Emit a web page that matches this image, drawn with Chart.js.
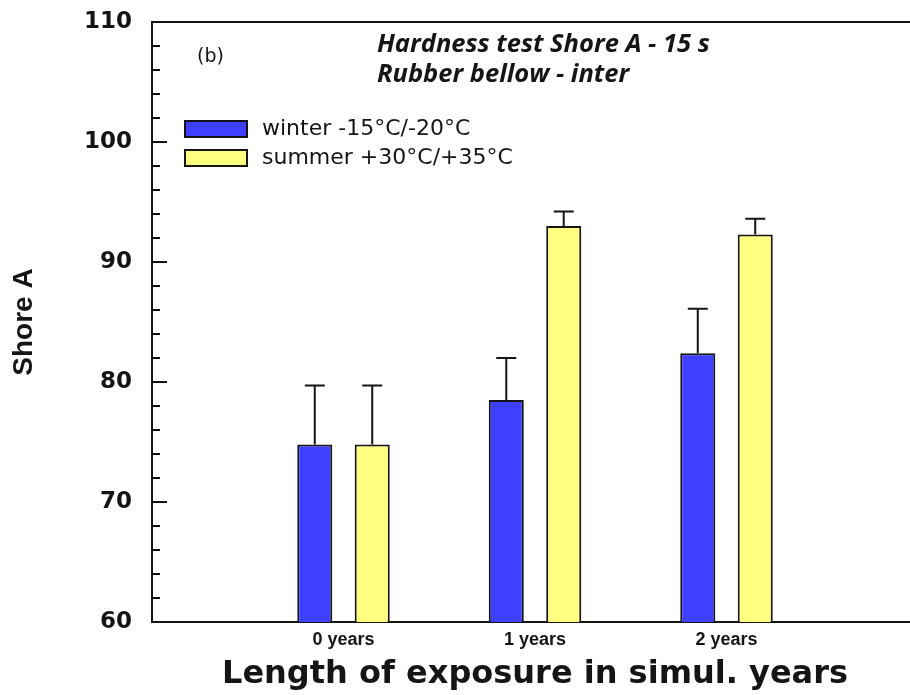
<!DOCTYPE html>
<html>
<head>
<meta charset="utf-8">
<script src="https://cdn.jsdelivr.net/npm/chart.js@4.4.1/dist/chart.umd.min.js"></script>
<style>
    html, body { margin: 0; padding: 0; background: #fff; overflow: hidden; }
    #wrap { width: 925px; height: 695px; position: relative; }
</style>
</head>
<body>
<div id="wrap"><canvas id="chart"></canvas></div>
<script>
// Dados
const categories = ['0 years', '1 years', '2 years'];
const winter = [74.8, 78.5, 82.4];
const summer = [74.8, 93.0, 92.3];
const winterErr = [4.9, 3.5, 3.7];
const summerErr = [4.9, 1.2, 1.3];
const seriesNames = ['winter -15°C/-20°C', 'summer +30°C/+35°C'];
const titleLines = ['Hardness test Shore A - 15 s', 'Rubber bellow - inter'];
const panelTag = '(b)';

const BLUE = '#3f3fff';
const YELLOW = '#ffff80';
const INK = '#151515';

// uma categoria vazia em cada ponta para deixar espaço como no original
const labels = [''].concat(categories, ['']);
const pad = arr => [null].concat(arr, [null]);

// barras de erro (só para cima)
const errorBars = {
    id: 'errorBars',
    afterDatasetsDraw(chart) {
        const ctx = chart.ctx;
        const y = chart.scales.y;
        ctx.save();
        ctx.strokeStyle = INK;
        ctx.lineWidth = 2;
        chart.data.datasets.forEach((ds, i) => {
            const meta = chart.getDatasetMeta(i);
            meta.data.forEach((bar, j) => {
                const v = ds.data[j];
                if (v === null) return;
                const top = y.getPixelForValue(v + ds.errors[j]);
                ctx.beginPath();
                ctx.moveTo(bar.x, bar.y);
                ctx.lineTo(bar.x, top);
                ctx.moveTo(bar.x - 10, top);
                ctx.lineTo(bar.x + 10, top);
                ctx.stroke();
            });
        });
        ctx.restore();
    }
};

// moldura, marcas internas do eixo y, legenda e títulos
const decorations = {
    id: 'decorations',
    afterDraw(chart) {
        const ctx = chart.ctx;
        const area = chart.chartArea;
        const y = chart.scales.y;
        ctx.save();
        ctx.strokeStyle = INK;
        ctx.lineWidth = 2;
        // linha de cima
        ctx.beginPath();
        ctx.moveTo(area.left, area.top);
        ctx.lineTo(area.right, area.top);
        ctx.stroke();
        // marcas do eixo y
        for (let v = y.min; v <= y.max; v += 2) {
            const py = Math.round(y.getPixelForValue(v));
            const len = (v % 10 === 0) ? 15 : 8;
            ctx.beginPath();
            ctx.moveTo(area.left, py);
            ctx.lineTo(area.left + len, py);
            ctx.stroke();
        }
        // legenda
        const colors = [BLUE, YELLOW];
        ctx.font = '22px "DejaVu Sans"';
        ctx.textBaseline = 'middle';
        ctx.fillStyle = INK;
        seriesNames.forEach((name, i) => {
            const top = 121 + i * 29;
            ctx.fillStyle = colors[i];
            ctx.fillRect(185, top, 62, 16);
            ctx.strokeRect(185, top, 62, 16);
            ctx.fillStyle = INK;
            ctx.fillText(name, 262, top + 8);
        });
        // (b)
        ctx.font = '19px "DejaVu Sans"';
        ctx.fillText(panelTag, 197, 57);
        // título em itálico
        ctx.font = 'italic bold 25.5px "Open Sans"';
        titleLines.forEach((t, i) => ctx.fillText(t, 377, 45 + i * 30));
        ctx.restore();
    }
};

const chart = new Chart(document.getElementById('chart'), {
    type: 'bar',
    data: {
        labels: labels,
        datasets: [
            {
                label: seriesNames[0],
                data: pad(winter),
                errors: pad(winterErr),
                backgroundColor: BLUE,
                borderColor: INK,
                borderWidth: 2,
                borderSkipped: 'bottom'
            },
            {
                label: seriesNames[1],
                data: pad(summer),
                errors: pad(summerErr),
                backgroundColor: YELLOW,
                borderColor: INK,
                borderWidth: 2,
                borderSkipped: 'bottom'
            }
        ]
    },
    options: {
        responsive: true,
        maintainAspectRatio: false,
        animation: false,
        categoryPercentage: 0.6,
        barPercentage: 0.61,
        layout: { padding: { top: 22, right: 5, left: 0, bottom: 0 } },
        plugins: {
            legend: { display: false },
            tooltip: { enabled: false },
            title: { display: false }
        },
        scales: {
            x: {
                offset: false,
                grid: { display: false, drawTicks: false },
                border: { display: true, color: INK, width: 2 },
                ticks: {
                    autoSkip: false,
                    maxRotation: 0,
                    padding: 7,
                    color: INK,
                    font: { family: 'Liberation Sans', size: 18, weight: 'bold' }
                },
                title: {
                    display: true,
                    text: 'Length of exposure in simul. years',
                    color: INK,
                    padding: { top: 0, bottom: 1 },
                    font: { family: 'DejaVu Sans', size: 32, weight: 'bold' }
                },
                afterFit(scale) { scale.height = 73; }
            },
            y: {
                min: 60,
                max: 110,
                // marcas invisíveis só para afastar os rótulos do eixo
                grid: { display: false, drawTicks: true, tickLength: 17 },
                border: { display: true, color: INK, width: 2 },
                ticks: {
                    stepSize: 10,
                    padding: 3,
                    color: INK,
                    font: { family: 'DejaVu Sans', size: 23, weight: 'bold' }
                },
                title: {
                    display: true,
                    text: 'Shore A',
                    color: INK,
                    padding: { top: 7, bottom: 0 },
                    font: { family: 'Liberation Sans', size: 28, weight: 'bold' }
                },
                afterFit(scale) { scale.width = 152; }
            }
        }
    },
    plugins: [errorBars, decorations]
});
</script>
</body>
</html>
